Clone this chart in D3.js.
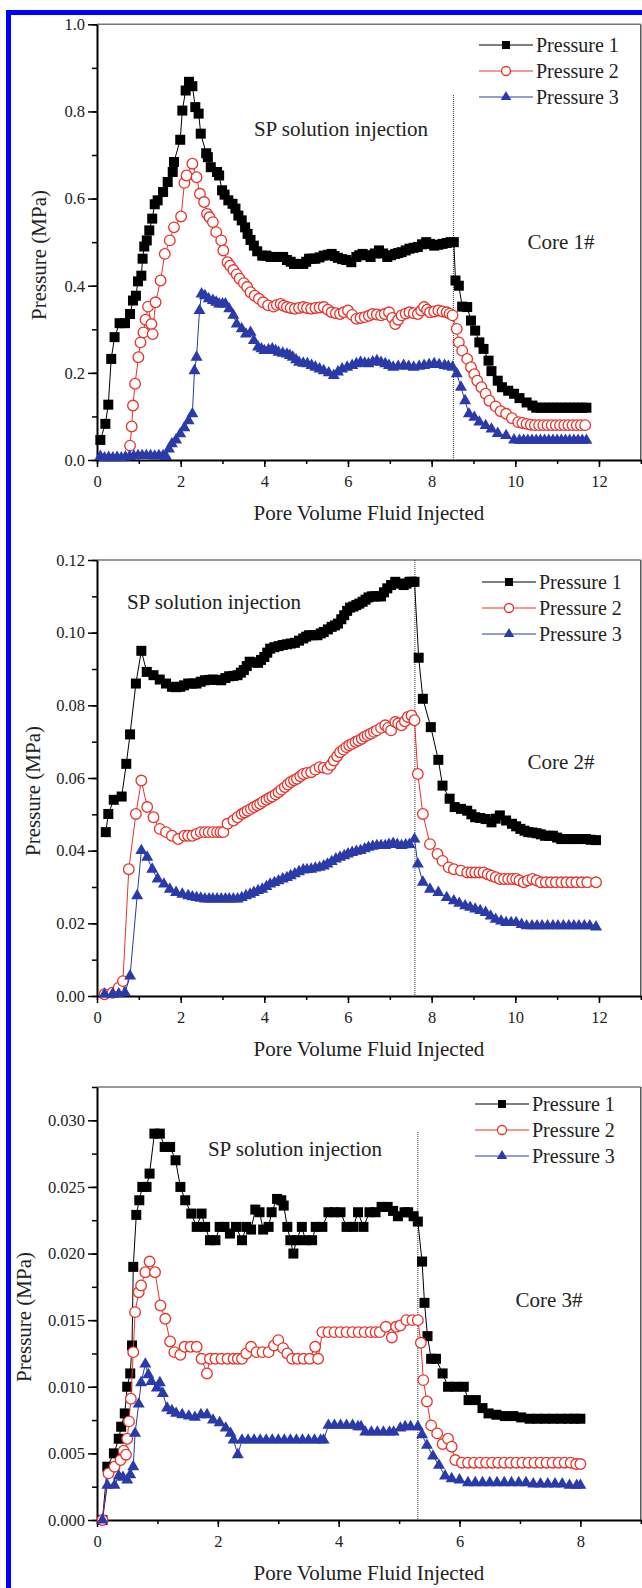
<!DOCTYPE html>
<html>
<head>
<meta charset="utf-8">
<script src="https://cdn.jsdelivr.net/npm/d3@7"></script>
<style>
  body { margin: 0; background: #fff; }
  svg { display: block; }
  svg text { font-family: "Liberation Serif", "DejaVu Serif", "Times New Roman", serif; fill: #222; }
</style>
</head>
<body>
<div id="chart"></div>
<script>
// Pressure vs pore volume injected, three cores, three pressure taps each
// values

const seriesNames = ["Pressure 1", "Pressure 2", "Pressure 3"];

// ---- Core 1# ----
const core1P1 = [[0.08,0.046],[0.2,0.083],[0.27,0.127],[0.34,0.232],[0.42,0.282],[0.54,0.314],[0.67,0.314],[0.79,0.335],[0.86,0.366],[0.93,0.377],[0.98,0.41],[1.06,0.423],[1.09,0.462],[1.13,0.49],[1.19,0.504],[1.25,0.527],[1.32,0.554],[1.38,0.587],[1.45,0.596],[1.58,0.615],[1.69,0.638],[1.81,0.661],[1.84,0.684],[1.99,0.735],[2.04,0.802],[2.12,0.848],[2.2,0.868],[2.28,0.858],[2.35,0.81],[2.43,0.795],[2.48,0.749],[2.61,0.704],[2.65,0.695],[2.72,0.672],[2.87,0.661],[2.92,0.653],[2.99,0.619],[3.05,0.609],[3.14,0.596],[3.24,0.588],[3.31,0.577],[3.38,0.561],[3.46,0.55],[3.54,0.534],[3.6,0.519],[3.67,0.505],[3.75,0.492],[3.83,0.479],[3.95,0.469],[4.05,0.469],[4.15,0.466],[4.25,0.466],[4.35,0.466],[4.45,0.466],[4.54,0.459],[4.63,0.455],[4.71,0.45],[4.82,0.45],[4.93,0.45],[5.0,0.455],[5.07,0.462],[5.15,0.462],[5.22,0.462],[5.32,0.465],[5.42,0.469],[5.52,0.471],[5.61,0.473],[5.68,0.468],[5.76,0.464],[5.86,0.461],[5.96,0.459],[6.08,0.454],[6.2,0.466],[6.27,0.47],[6.35,0.473],[6.45,0.47],[6.54,0.466],[6.64,0.474],[6.74,0.481],[6.84,0.474],[6.94,0.466],[7.03,0.47],[7.13,0.473],[7.2,0.475],[7.28,0.477],[7.38,0.481],[7.47,0.485],[7.57,0.487],[7.67,0.489],[7.77,0.495],[7.87,0.5],[7.96,0.496],[8.06,0.492],[8.16,0.494],[8.26,0.496],[8.36,0.498],[8.45,0.5],[8.53,0.5],[8.57,0.412],[8.65,0.4],[8.73,0.352],[8.85,0.351],[8.94,0.32],[9.04,0.297],[9.14,0.27],[9.24,0.255],[9.36,0.228],[9.43,0.204],[9.58,0.182],[9.68,0.167],[9.83,0.159],[9.97,0.152],[10.1,0.142],[10.27,0.132],[10.41,0.125],[10.5,0.12],[10.6,0.12],[10.7,0.12],[10.8,0.12],[10.9,0.12],[11.0,0.12],[11.1,0.12],[11.2,0.12],[11.3,0.12],[11.4,0.12],[11.5,0.12],[11.6,0.12],[11.7,0.12]];
const core1P2 = [[0.79,0.033],[0.83,0.077],[0.86,0.125],[0.91,0.175],[0.99,0.236],[1.04,0.27],[1.11,0.293],[1.16,0.322],[1.22,0.352],[1.3,0.312],[1.33,0.289],[1.4,0.362],[1.52,0.412],[1.62,0.473],[1.74,0.504],[1.84,0.534],[2.01,0.559],[2.09,0.636],[2.14,0.653],[2.28,0.68],[2.38,0.649],[2.46,0.611],[2.56,0.592],[2.63,0.565],[2.69,0.557],[2.77,0.546],[2.85,0.523],[2.97,0.504],[3.02,0.481],[3.12,0.454],[3.18,0.446],[3.26,0.436],[3.34,0.426],[3.41,0.416],[3.51,0.406],[3.59,0.397],[3.67,0.385],[3.77,0.377],[3.87,0.37],[3.97,0.362],[4.09,0.355],[4.22,0.352],[4.3,0.356],[4.39,0.358],[4.46,0.354],[4.54,0.351],[4.63,0.349],[4.73,0.347],[4.83,0.349],[4.93,0.351],[5.02,0.349],[5.12,0.347],[5.22,0.349],[5.32,0.35],[5.42,0.351],[5.52,0.345],[5.61,0.339],[5.71,0.337],[5.81,0.335],[5.9,0.339],[6.0,0.343],[6.1,0.333],[6.2,0.324],[6.3,0.326],[6.4,0.328],[6.5,0.331],[6.59,0.335],[6.69,0.334],[6.79,0.332],[6.88,0.335],[6.98,0.339],[7.06,0.326],[7.13,0.312],[7.2,0.322],[7.28,0.332],[7.38,0.336],[7.47,0.339],[7.57,0.337],[7.67,0.335],[7.75,0.343],[7.82,0.351],[7.89,0.345],[7.96,0.339],[8.06,0.341],[8.16,0.343],[8.26,0.341],[8.36,0.339],[8.43,0.336],[8.5,0.332],[8.6,0.301],[8.65,0.27],[8.73,0.251],[8.85,0.232],[8.94,0.213],[9.02,0.197],[9.09,0.182],[9.19,0.167],[9.29,0.152],[9.38,0.136],[9.53,0.123],[9.65,0.112],[9.78,0.106],[9.92,0.096],[10.07,0.087],[10.17,0.085],[10.27,0.083],[10.37,0.081],[10.47,0.08],[10.57,0.08],[10.67,0.08],[10.77,0.08],[10.87,0.08],[10.97,0.08],[11.07,0.08],[11.17,0.08],[11.27,0.08],[11.37,0.08],[11.47,0.08],[11.57,0.08],[11.67,0.08]];
const core1P3 = [[0.08,0.008],[0.18,0.005],[0.28,0.006],[0.38,0.005],[0.48,0.006],[0.58,0.005],[0.68,0.007],[0.78,0.008],[0.88,0.009],[0.98,0.01],[1.08,0.01],[1.18,0.01],[1.28,0.01],[1.38,0.009],[1.48,0.01],[1.58,0.01],[1.65,0.008],[1.72,0.025],[1.79,0.037],[1.89,0.046],[1.99,0.06],[2.09,0.074],[2.19,0.09],[2.28,0.106],[2.33,0.205],[2.38,0.236],[2.45,0.343],[2.5,0.381],[2.58,0.377],[2.67,0.37],[2.77,0.366],[2.85,0.362],[2.92,0.358],[3.0,0.358],[3.07,0.358],[3.16,0.347],[3.26,0.332],[3.34,0.312],[3.46,0.301],[3.56,0.289],[3.67,0.293],[3.75,0.274],[3.85,0.259],[3.93,0.255],[4.0,0.251],[4.1,0.253],[4.19,0.255],[4.27,0.251],[4.34,0.247],[4.44,0.245],[4.54,0.243],[4.61,0.24],[4.68,0.236],[4.76,0.23],[4.83,0.224],[4.93,0.222],[5.03,0.221],[5.13,0.217],[5.22,0.213],[5.32,0.209],[5.42,0.205],[5.54,0.2],[5.66,0.194],[5.76,0.202],[5.86,0.209],[5.98,0.213],[6.1,0.217],[6.2,0.221],[6.3,0.224],[6.4,0.222],[6.49,0.221],[6.59,0.225],[6.69,0.228],[6.79,0.224],[6.89,0.221],[6.98,0.217],[7.08,0.213],[7.2,0.215],[7.33,0.217],[7.45,0.215],[7.57,0.213],[7.7,0.215],[7.82,0.217],[7.94,0.219],[8.06,0.221],[8.18,0.219],[8.31,0.217],[8.4,0.215],[8.5,0.213],[8.6,0.198],[8.7,0.167],[8.8,0.136],[8.89,0.106],[9.02,0.098],[9.14,0.087],[9.29,0.079],[9.43,0.071],[9.58,0.061],[9.78,0.056],[9.97,0.046],[10.1,0.045],[10.2,0.045],[10.3,0.045],[10.4,0.045],[10.5,0.045],[10.6,0.045],[10.7,0.045],[10.8,0.045],[10.9,0.045],[11.0,0.045],[11.1,0.045],[11.2,0.045],[11.3,0.045],[11.4,0.045],[11.5,0.045],[11.6,0.045],[11.7,0.045]];

// ---- Core 2# ----
const core2P1 = [[0.21,0.0451],[0.27,0.0501],[0.4,0.054],[0.59,0.0549],[0.7,0.0639],[0.79,0.072],[0.93,0.086],[1.06,0.095],[1.19,0.0892],[1.35,0.0883],[1.5,0.0871],[1.65,0.086],[1.79,0.0851],[1.89,0.085],[1.99,0.0851],[2.08,0.0855],[2.18,0.086],[2.28,0.086],[2.38,0.086],[2.48,0.0865],[2.58,0.0869],[2.68,0.087],[2.77,0.0871],[2.87,0.087],[2.97,0.0869],[3.07,0.0875],[3.16,0.088],[3.26,0.0881],[3.36,0.0883],[3.44,0.089],[3.51,0.0897],[3.58,0.0908],[3.65,0.092],[3.75,0.0918],[3.85,0.0917],[3.92,0.0925],[4.0,0.0933],[4.07,0.0945],[4.14,0.0956],[4.24,0.096],[4.34,0.0963],[4.44,0.0966],[4.54,0.0968],[4.63,0.097],[4.73,0.0972],[4.83,0.0978],[4.93,0.0984],[5.0,0.0989],[5.07,0.0993],[5.17,0.0993],[5.27,0.0993],[5.35,0.0998],[5.42,0.1002],[5.52,0.1009],[5.61,0.1016],[5.69,0.102],[5.76,0.1025],[5.84,0.1037],[5.91,0.1048],[5.98,0.106],[6.05,0.1069],[6.13,0.1072],[6.2,0.1076],[6.27,0.108],[6.35,0.1085],[6.42,0.1091],[6.49,0.1097],[6.57,0.11],[6.64,0.11],[6.72,0.11],[6.79,0.11],[6.86,0.1111],[6.94,0.1122],[7.03,0.1131],[7.13,0.114],[7.23,0.1135],[7.33,0.1131],[7.4,0.1135],[7.47,0.114],[7.53,0.114],[7.59,0.114],[7.69,0.0931],[7.79,0.0818],[7.98,0.074],[8.16,0.065],[8.26,0.0579],[8.43,0.0543],[8.55,0.052],[8.7,0.0515],[8.85,0.051],[8.95,0.05],[9.04,0.0492],[9.16,0.049],[9.29,0.0487],[9.43,0.0478],[9.53,0.0488],[9.63,0.0497],[9.78,0.0483],[9.92,0.0474],[10.02,0.0467],[10.12,0.046],[10.22,0.0455],[10.31,0.0451],[10.41,0.045],[10.51,0.0448],[10.61,0.0445],[10.71,0.0441],[10.81,0.0441],[10.9,0.0441],[11.0,0.0436],[11.1,0.0432],[11.2,0.0432],[11.3,0.0432],[11.39,0.0432],[11.5,0.0432],[11.6,0.0432],[11.69,0.0432],[11.8,0.043],[11.93,0.0429]];
const core2P2 = [[0.18,0.0005],[0.37,0.0009],[0.52,0.0023],[0.62,0.0041],[0.76,0.0349],[0.93,0.0501],[1.06,0.0593],[1.2,0.052],[1.35,0.0492],[1.5,0.046],[1.65,0.0451],[1.79,0.0441],[1.94,0.0432],[2.09,0.0441],[2.18,0.0441],[2.28,0.0441],[2.38,0.0446],[2.48,0.0451],[2.58,0.0451],[2.67,0.0451],[2.77,0.0451],[2.87,0.0451],[2.95,0.0451],[3.02,0.0451],[3.12,0.0474],[3.26,0.0483],[3.36,0.0492],[3.46,0.0501],[3.53,0.0505],[3.6,0.051],[3.68,0.0515],[3.75,0.052],[3.83,0.0525],[3.9,0.0529],[3.97,0.0535],[4.05,0.054],[4.12,0.0545],[4.19,0.0549],[4.27,0.0555],[4.34,0.0561],[4.41,0.0568],[4.49,0.0575],[4.56,0.0582],[4.63,0.0589],[4.71,0.0594],[4.78,0.0598],[4.86,0.0605],[4.93,0.0611],[5.02,0.0614],[5.12,0.0616],[5.22,0.0623],[5.32,0.063],[5.42,0.0628],[5.51,0.0625],[5.59,0.0636],[5.66,0.0648],[5.74,0.066],[5.81,0.0671],[5.89,0.0678],[5.96,0.0685],[6.03,0.069],[6.1,0.0694],[6.18,0.0699],[6.25,0.0703],[6.33,0.0708],[6.4,0.0714],[6.47,0.0718],[6.54,0.0722],[6.62,0.0727],[6.69,0.0731],[6.79,0.0738],[6.89,0.0745],[6.96,0.0738],[7.03,0.0731],[7.13,0.0754],[7.2,0.075],[7.28,0.0745],[7.36,0.0756],[7.43,0.0768],[7.52,0.0772],[7.59,0.0759],[7.67,0.0611],[7.79,0.0501],[7.96,0.0418],[8.14,0.0391],[8.26,0.0372],[8.41,0.0354],[8.53,0.0349],[8.7,0.0345],[8.85,0.034],[8.95,0.034],[9.04,0.034],[9.14,0.034],[9.24,0.034],[9.34,0.0335],[9.43,0.0331],[9.53,0.0327],[9.63,0.0322],[9.73,0.0322],[9.83,0.0322],[9.93,0.0322],[10.02,0.0322],[10.1,0.0318],[10.2,0.0313],[10.3,0.0318],[10.41,0.0322],[10.51,0.0318],[10.61,0.0313],[10.73,0.0313],[10.85,0.0313],[10.97,0.0313],[11.1,0.0313],[11.22,0.0313],[11.34,0.0313],[11.46,0.0313],[11.59,0.0313],[11.72,0.0313],[11.93,0.0313]];
const core2P3 = [[0.18,0.0005],[0.37,0.0005],[0.52,0.0006],[0.67,0.0009],[0.79,0.0055],[0.96,0.0276],[1.06,0.04],[1.2,0.0382],[1.32,0.0349],[1.45,0.0322],[1.6,0.0308],[1.74,0.0294],[1.89,0.0285],[2.04,0.028],[2.18,0.0276],[2.28,0.0273],[2.38,0.0271],[2.48,0.0269],[2.58,0.0267],[2.68,0.0267],[2.77,0.0267],[2.87,0.0267],[2.97,0.0267],[3.07,0.0267],[3.16,0.0267],[3.26,0.0267],[3.36,0.0267],[3.46,0.0271],[3.56,0.0276],[3.66,0.028],[3.75,0.0285],[3.85,0.029],[3.95,0.0294],[4.05,0.0301],[4.14,0.0308],[4.24,0.0312],[4.34,0.0317],[4.44,0.0322],[4.54,0.0326],[4.63,0.0331],[4.73,0.0336],[4.83,0.0342],[4.93,0.0347],[5.02,0.0348],[5.12,0.0349],[5.22,0.0352],[5.32,0.0354],[5.42,0.0358],[5.51,0.0363],[5.61,0.037],[5.71,0.0377],[5.81,0.0382],[5.91,0.0386],[6.0,0.0391],[6.1,0.0395],[6.2,0.0398],[6.3,0.04],[6.4,0.0405],[6.49,0.0409],[6.59,0.0412],[6.69,0.0414],[6.79,0.0414],[6.89,0.0414],[6.98,0.0417],[7.08,0.042],[7.18,0.0417],[7.28,0.0414],[7.38,0.0416],[7.47,0.0417],[7.59,0.0432],[7.67,0.0363],[7.79,0.0313],[7.96,0.0294],[8.16,0.0285],[8.36,0.0271],[8.53,0.0262],[8.66,0.0255],[8.8,0.0248],[8.92,0.0244],[9.04,0.0239],[9.16,0.0235],[9.29,0.023],[9.41,0.022],[9.53,0.0211],[9.66,0.0206],[9.78,0.0202],[9.9,0.0202],[10.02,0.0202],[10.15,0.0197],[10.27,0.0193],[10.4,0.0193],[10.52,0.0193],[10.64,0.0193],[10.77,0.0193],[10.9,0.0193],[11.02,0.0193],[11.15,0.0193],[11.28,0.0193],[11.4,0.0193],[11.52,0.0193],[11.65,0.0193],[11.78,0.0193],[11.93,0.019]];

// ---- Core 3# ----
const core3P1 = [[0.09,0.0],[0.17,0.004],[0.28,0.005],[0.36,0.0061],[0.4,0.007],[0.46,0.008],[0.5,0.01],[0.55,0.011],[0.58,0.0131],[0.6,0.019],[0.65,0.0229],[0.7,0.024],[0.75,0.025],[0.82,0.025],[0.87,0.026],[0.95,0.029],[1.04,0.029],[1.12,0.028],[1.21,0.028],[1.3,0.027],[1.38,0.025],[1.46,0.024],[1.56,0.023],[1.65,0.022],[1.73,0.023],[1.79,0.022],[1.87,0.021],[1.96,0.021],[2.03,0.022],[2.11,0.022],[2.2,0.0215],[2.3,0.022],[2.4,0.021],[2.47,0.022],[2.55,0.0218],[2.62,0.0233],[2.69,0.0231],[2.75,0.0218],[2.84,0.022],[2.89,0.0231],[2.98,0.0241],[3.05,0.024],[3.09,0.0236],[3.15,0.022],[3.2,0.021],[3.25,0.02],[3.3,0.021],[3.39,0.022],[3.45,0.021],[3.56,0.021],[3.62,0.022],[3.73,0.022],[3.83,0.0231],[3.93,0.0231],[4.03,0.0231],[4.13,0.022],[4.24,0.022],[4.32,0.0231],[4.41,0.022],[4.51,0.0231],[4.61,0.0231],[4.71,0.0235],[4.81,0.0235],[4.9,0.0232],[4.98,0.0228],[5.09,0.0231],[5.15,0.0231],[5.24,0.0228],[5.31,0.0224],[5.38,0.0194],[5.42,0.0163],[5.47,0.0138],[5.53,0.0121],[5.61,0.0121],[5.72,0.011],[5.81,0.01],[5.93,0.01],[6.07,0.01],[6.15,0.009],[6.27,0.009],[6.38,0.0084],[6.48,0.008],[6.61,0.0079],[6.75,0.0078],[6.89,0.0078],[7.02,0.0077],[7.16,0.0076],[7.29,0.0076],[7.42,0.0076],[7.55,0.0076],[7.68,0.0076],[7.8,0.0076],[7.9,0.0076],[8.0,0.0076]];
const core3P2 = [[0.09,0.0],[0.19,0.0035],[0.29,0.004],[0.39,0.0045],[0.44,0.0052],[0.48,0.0049],[0.5,0.0061],[0.53,0.0074],[0.56,0.0091],[0.6,0.0126],[0.63,0.0156],[0.69,0.0171],[0.73,0.0176],[0.8,0.0186],[0.87,0.0194],[0.96,0.0186],[1.05,0.0161],[1.13,0.0151],[1.21,0.0134],[1.28,0.0126],[1.38,0.0124],[1.45,0.013],[1.55,0.013],[1.65,0.013],[1.73,0.0121],[1.82,0.011],[1.87,0.0121],[1.96,0.0121],[2.06,0.0121],[2.16,0.0121],[2.26,0.0121],[2.33,0.0121],[2.4,0.0121],[2.47,0.0125],[2.55,0.013],[2.64,0.0126],[2.74,0.0126],[2.84,0.0126],[2.93,0.0131],[3.0,0.0135],[3.08,0.0129],[3.15,0.0125],[3.23,0.0121],[3.32,0.0121],[3.42,0.0121],[3.52,0.0121],[3.61,0.013],[3.66,0.0121],[3.73,0.0141],[3.83,0.0141],[3.93,0.0141],[4.03,0.0141],[4.13,0.0141],[4.23,0.0141],[4.33,0.0141],[4.43,0.0141],[4.53,0.0141],[4.61,0.0141],[4.68,0.0141],[4.78,0.0145],[4.88,0.0137],[4.95,0.0145],[5.02,0.0146],[5.12,0.015],[5.22,0.015],[5.31,0.015],[5.36,0.0133],[5.4,0.0105],[5.46,0.0089],[5.53,0.0071],[5.63,0.0065],[5.72,0.0057],[5.81,0.0061],[5.87,0.0055],[5.93,0.0045],[6.04,0.0043],[6.14,0.0043],[6.24,0.0043],[6.34,0.0043],[6.44,0.0043],[6.54,0.0043],[6.64,0.0043],[6.74,0.0043],[6.84,0.0043],[6.94,0.0043],[7.04,0.0043],[7.14,0.0043],[7.24,0.0043],[7.34,0.0043],[7.44,0.0043],[7.54,0.0043],[7.64,0.0043],[7.74,0.0043],[7.84,0.0043],[7.93,0.0042],[8.0,0.0042]];
const core3P3 = [[0.09,0.0],[0.17,0.0026],[0.29,0.0026],[0.36,0.0033],[0.43,0.0032],[0.5,0.003],[0.55,0.0034],[0.6,0.004],[0.63,0.0065],[0.69,0.0087],[0.73,0.0103],[0.8,0.0117],[0.85,0.0109],[0.9,0.0104],[0.99,0.0099],[1.04,0.0103],[1.09,0.0095],[1.16,0.0084],[1.24,0.0082],[1.31,0.008],[1.41,0.0079],[1.52,0.0078],[1.62,0.0077],[1.72,0.0079],[1.82,0.0079],[1.92,0.0075],[2.03,0.0073],[2.13,0.0069],[2.21,0.0065],[2.26,0.006],[2.33,0.0049],[2.4,0.006],[2.5,0.006],[2.6,0.006],[2.7,0.006],[2.8,0.006],[2.9,0.006],[3.0,0.006],[3.1,0.006],[3.2,0.006],[3.3,0.006],[3.4,0.006],[3.5,0.006],[3.6,0.006],[3.7,0.006],[3.75,0.006],[3.83,0.0071],[3.93,0.0071],[4.03,0.0071],[4.13,0.0071],[4.23,0.0071],[4.32,0.007],[4.37,0.007],[4.44,0.0066],[4.54,0.0066],[4.64,0.0066],[4.74,0.0066],[4.84,0.0066],[4.91,0.0066],[5.02,0.0069],[5.1,0.007],[5.19,0.007],[5.31,0.007],[5.38,0.0064],[5.46,0.0056],[5.56,0.0048],[5.66,0.0041],[5.76,0.0033],[5.87,0.0031],[6.0,0.003],[6.14,0.0028],[6.26,0.0028],[6.38,0.0028],[6.5,0.0028],[6.62,0.0028],[6.74,0.0028],[6.86,0.0028],[6.98,0.0028],[7.1,0.0028],[7.22,0.0027],[7.34,0.0027],[7.46,0.0027],[7.58,0.0027],[7.7,0.0027],[7.82,0.0026],[7.94,0.0026],[8.0,0.0026]];

// axis ticks
const core1YTicks = [0, 0.2, 0.4, 0.6, 0.8, 1.0];
const core2YTicks = [0, 0.02, 0.04, 0.06, 0.08, 0.10, 0.12];
const core3YTicks = [0, 0.005, 0.010, 0.015, 0.020, 0.025, 0.030];
const xTicksLong = [0, 2, 4, 6, 8, 10, 12];
const xTicksShort = [0, 2, 4, 6, 8];
// end of SP injection (pore volumes)
const injectionEnd = [8.52, 7.6, 5.31];

const width = 642, height = 1588;
const colors = ["#000000", "#e8322a", "#2a3aa8"];
const left = 97, right = 640.8;

const panels = [
  { name: "Core 1#", data: [core1P1, core1P2, core1P3], xMax: 13, xTicks: xTicksLong,
    yMax: 1.0, yTicks: core1YTicks, yMinorStep: 0.1, fmt: d3.format(".1f"),
    top: 24.3, bottom: 460, endX: injectionEnd[0], endTop: 95,
    sp: [341, 129], core: [561, 242], legend: [479, 45], yTitle: [39, 255] },
  { name: "Core 2#", data: [core2P1, core2P2, core2P3], xMax: 13, xTicks: xTicksLong,
    yMax: 0.12, yTicks: core2YTicks, yMinorStep: 0.01, fmt: d3.format(".2f"),
    top: 560, bottom: 996, endX: injectionEnd[1], endTop: 560,
    sp: [214, 602], core: [561, 762], legend: [482, 582], yTitle: [33, 791] },
  { name: "Core 3#", data: [core3P1, core3P2, core3P3], xMax: 9, xTicks: xTicksShort,
    yMax: 0.0325, yTicks: core3YTicks, yMinorStep: 0.0025, fmt: d3.format(".3f"),
    top: 1087, bottom: 1520, endX: injectionEnd[2], endTop: 1132,
    sp: [295, 1149], core: [549, 1300], legend: [475, 1104], yTitle: [24, 1317] }
];

const svg = d3.select("#chart").append("svg")
  .attr("width", width)
  .attr("height", height);

svg.append("rect").attr("width", width).attr("height", height).attr("fill", "#fff");

// marker shapes
function marker(g, i, big) {
  if (i === 0) {
    const s = big ? 10 : 8;
    g.append("rect").attr("x", -s / 2).attr("y", -s / 2).attr("width", s).attr("height", s)
      .attr("fill", colors[0]);
  } else if (i === 1) {
    g.append("circle").attr("r", big ? 5.3 : 4.5)
      .attr("fill", "#fff").attr("stroke", colors[1]).attr("stroke-width", 1.3);
  } else {
    g.append("path").attr("d", d3.symbol().type(d3.symbolTriangle).size(big ? 62 : 48)())
      .attr("fill", colors[2]);
  }
}

panels.forEach(p => {
  const x = d3.scaleLinear().domain([0, p.xMax]).range([left, right]);
  const y = d3.scaleLinear().domain([0, p.yMax]).range([p.bottom, p.top]);
  const g = svg.append("g");

  // frame top/right
  g.append("line").attr("x1", left).attr("x2", right).attr("y1", p.top).attr("y2", p.top)
    .attr("stroke", "#777").attr("stroke-width", 1.5);
  g.append("line").attr("x1", right).attr("x2", right).attr("y1", p.top).attr("y2", p.bottom)
    .attr("stroke", "#555").attr("stroke-width", 1.5);

  // minor ticks
  const yMinor = d3.range(0, p.yMax + 1e-9, p.yMinorStep);
  g.append("g").attr("transform", `translate(${left},0)`)
    .call(d3.axisLeft(y).tickValues(yMinor).tickSize(5).tickSizeOuter(0).tickFormat(""))
    .call(a => a.select(".domain").remove())
    .call(a => a.selectAll("line").attr("stroke-width", 1.5));
  g.append("g").attr("transform", `translate(0,${p.bottom})`)
    .call(d3.axisBottom(x).tickValues(d3.range(0, p.xMax + 1)).tickSize(4).tickSizeOuter(0).tickFormat(""))
    .call(a => a.select(".domain").remove())
    .call(a => a.selectAll("line").attr("stroke-width", 1.5));

  // major axes
  g.append("g").attr("transform", `translate(${left},0)`)
    .call(d3.axisLeft(y).tickValues(p.yTicks).tickSize(9).tickSizeOuter(0).tickPadding(3).tickFormat(p.fmt))
    .call(a => a.select(".domain").attr("stroke-width", 2))
    .call(a => a.selectAll("line").attr("stroke-width", 1.5))
    .call(a => a.selectAll("text").style("font-size", "16.5px"));
  g.append("g").attr("transform", `translate(0,${p.bottom})`)
    .call(d3.axisBottom(x).tickValues(p.xTicks).tickSize(7).tickSizeOuter(0).tickPadding(8))
    .call(a => a.select(".domain").attr("stroke-width", 2))
    .call(a => a.selectAll("line").attr("stroke-width", 1.5))
    .call(a => a.selectAll("text").style("font-size", "16.5px"));

  // axis titles
  g.append("text")
    .attr("x", (left + right) / 2).attr("y", p.bottom + 60)
    .attr("text-anchor", "middle").style("font-size", "21px")
    .text("Pore Volume Fluid Injected");
  g.append("text")
    .attr("transform", `translate(${p.yTitle[0]},${p.yTitle[1]}) rotate(-90)`)
    .attr("text-anchor", "middle").attr("dy", "0.35em").style("font-size", "21px")
    .text("Pressure (MPa)");

  // end of injection marker
  g.append("line")
    .attr("x1", x(p.endX)).attr("x2", x(p.endX)).attr("y1", p.endTop).attr("y2", p.bottom)
    .attr("stroke", "#333").attr("stroke-width", 1).attr("stroke-dasharray", "1,1");

  // series
  const line = d3.line().x(d => x(d[0])).y(d => y(d[1]));
  p.data.forEach((s, i) => {
    g.append("path").datum(s).attr("d", line)
      .attr("fill", "none").attr("stroke", colors[i]).attr("stroke-width", 1);
    const pts = g.append("g").selectAll("g").data(s).join("g")
      .attr("transform", d => `translate(${x(d[0])},${y(d[1])})`);
    pts.each(function () { marker(d3.select(this), i, true); });
  });

  // annotations
  g.append("text").attr("x", p.sp[0]).attr("y", p.sp[1]).attr("dy", "0.35em")
    .attr("text-anchor", "middle").style("font-size", "21px")
    .text("SP solution injection");
  g.append("text").attr("x", p.core[0]).attr("y", p.core[1]).attr("dy", "0.35em")
    .attr("text-anchor", "middle").style("font-size", "21px")
    .text(p.name);

  // legend
  seriesNames.forEach((n, i) => {
    const ly = p.legend[1] + i * 26;
    const lx = p.legend[0];
    g.append("line").attr("x1", lx).attr("x2", lx + 54).attr("y1", ly).attr("y2", ly)
      .attr("stroke", colors[i]).attr("stroke-width", 1);
    marker(g.append("g").attr("transform", `translate(${lx + 27},${ly})`), i, false);
    g.append("text").attr("x", lx + 57).attr("y", ly).attr("dy", "0.35em")
      .style("font-size", "20px").text(n);
  });
});

// blue outer border (open at right and bottom, as in the scan)
svg.append("rect")
  .attr("x", 8.5).attr("y", 12.5).attr("width", 800).attr("height", 1800)
  .attr("fill", "none").attr("stroke", "#0000ff").attr("stroke-width", 5);
</script>
</body>
</html>
